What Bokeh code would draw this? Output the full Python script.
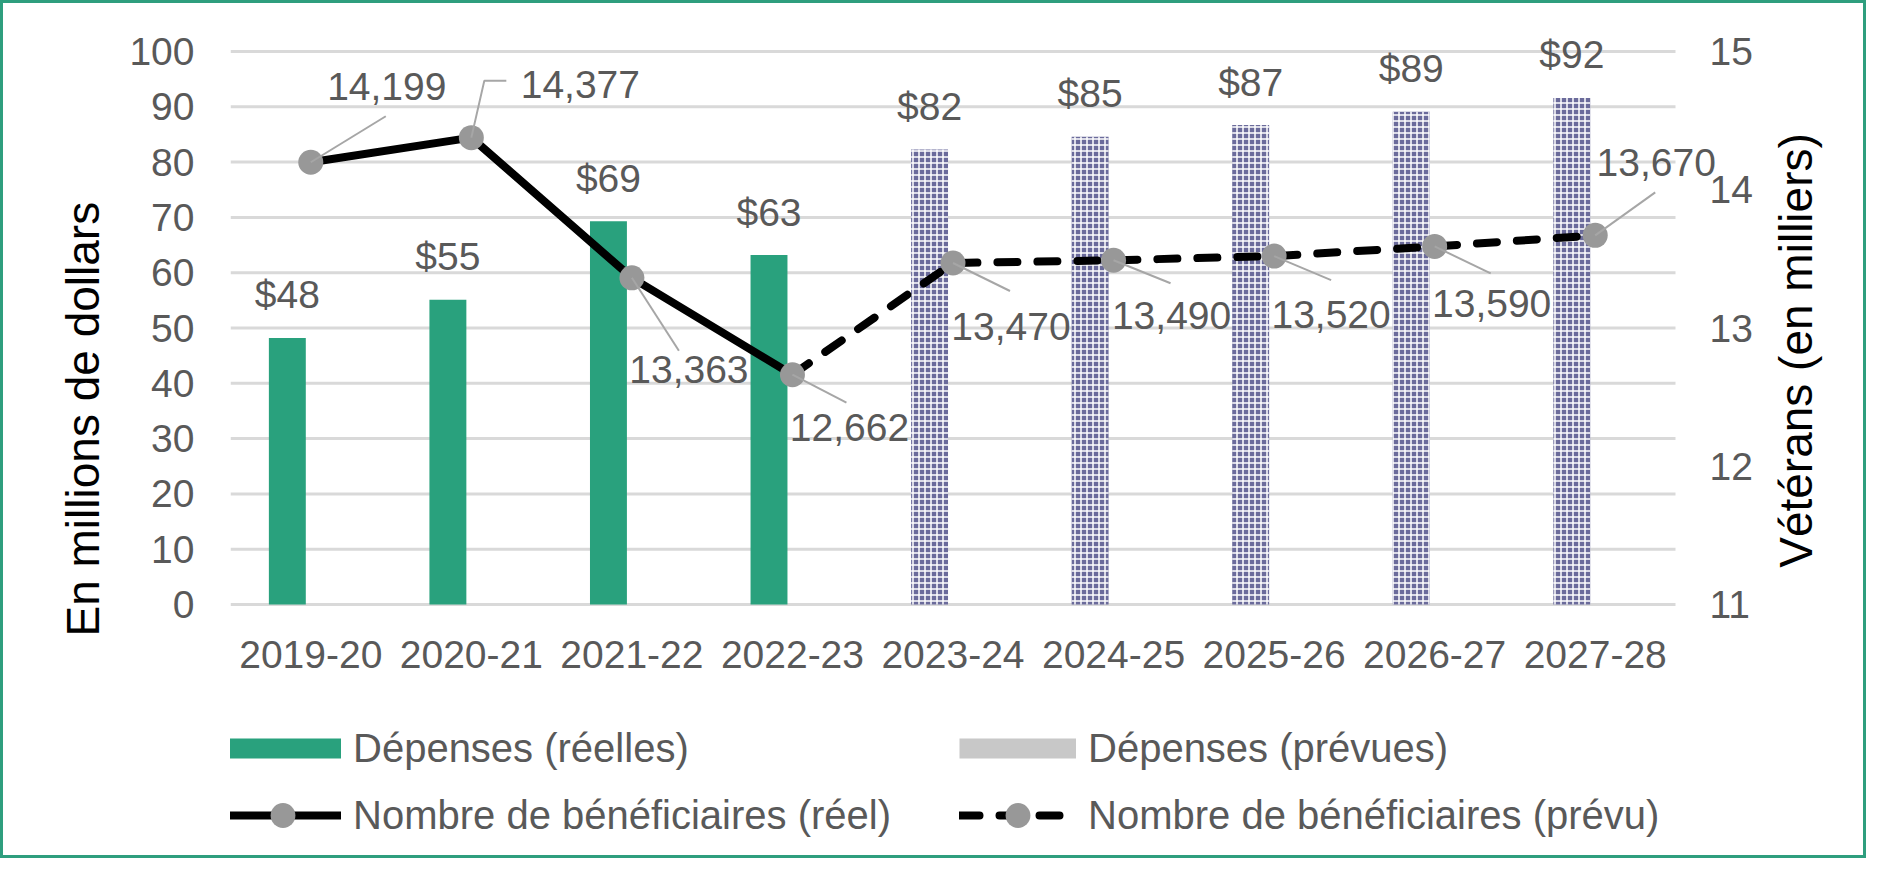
import math
from bokeh.plotting import figure
from bokeh.layouts import column
from bokeh.models import (Range1d, LinearAxis, FixedTicker, ColumnDataSource,
                          Legend, LegendItem, Title)
from bokeh.embed import file_html
from bokeh.resources import INLINE
from bokeh.core.properties import value

# ---------------- data ----------------
years = ["2019-20", "2020-21", "2021-22", "2022-23", "2023-24",
         "2024-25", "2025-26", "2026-27", "2027-28"]
spend_actual = [48.2, 55.1, 69.3, 63.2]            # millions $
spend_planned = [82.3, 84.6, 86.7, 89.1, 91.6]     # millions $
beneficiaries = [14199, 14377, 13363, 12662, 13470, 13490, 13520, 13590, 13670]
n_actual = 4
left_ticks = list(range(0, 101, 10))
right_ticks = [11, 12, 13, 14, 15]

# ---------------- layout / style ----------------
FONT = "Liberation Sans"
GREEN = "#29A17D"
PLAN = "#6B6B9B"
GRAY_TXT = "#595959"
GRID = "#D9D9D9"
MARK = "#989898"
LEADER = "#A6A6A6"

W = 1860
H1, H2 = 697, 155                 # chart part, legend part
DATA_H = 553                      # px between 0 and 100
PAD_BOT, PAD_TOP = 3, 31
ML = 227
FRAME_RIGHT = 1827                # frame extends past the last category (room for labels/title)
MR = W - FRAME_RIGHT
MT = 17
FRAME_BOTTOM = MT + DATA_H + PAD_BOT + PAD_TOP
MB = H1 - FRAME_BOTTOM
FW = W - ML - MR
CAT_PX = 1445 / 9
X0 = -0.5
X_PLOT_END = X0 + len(years)
X1 = X0 + FW / CAT_PX
px_l = DATA_H / 100
px_r = DATA_H / (right_ticks[-1] - right_ticks[0])
Y0 = -PAD_BOT / px_l

BAR_SHIFT = -0.146
BAR_W = 0.23
BAR_LAB_DY = -43

lab_dx = [76, 109, 57, 57, 58, 58, 57, 57, 61]
lab_dy = [-76, -53, 92, 53, 63, 55, 58, 57, -73]
lead_pts = [[(75, -46)], [(13, -57), (35, -57)], [(47, 73)], [(54, 28)], [(57, 28)],
            [(57, 23)], [(57, 24)], [(56, 27)], [(60, -43)]]

p = figure(width=W, height=H1, output_backend="svg", toolbar_location=None,
           x_range=Range1d(X0, X1),
           y_range=Range1d(Y0, 100 + PAD_TOP / px_l),
           min_border_left=ML, min_border_right=MR,
           min_border_top=MT, min_border_bottom=MB)
p.extra_y_ranges = {"vet": Range1d(right_ticks[0] - PAD_BOT / px_r,
                                   right_ticks[-1] + PAD_TOP / px_r)}
p.outline_line_color = None
p.background_fill_color = "white"
p.border_fill_color = "white"

# grid (across the category area only)
p.xgrid.visible = False
p.ygrid.visible = False
p.segment(x0=[X0] * len(left_ticks), x1=[X_PLOT_END] * len(left_ticks),
          y0=left_ticks, y1=left_ticks, line_color=GRID, line_width=3)

# axes
ra = LinearAxis(y_range_name="vet", ticker=FixedTicker(ticks=right_ticks))
p.add_layout(ra, "right")
p.yaxis[0].ticker = FixedTicker(ticks=left_ticks)
p.xaxis[0].ticker = FixedTicker(ticks=list(range(len(years))))
p.xaxis[0].major_label_overrides = {i: y for i, y in enumerate(years)}
for ax in [p.xaxis[0], p.yaxis[0], ra]:
    ax.axis_line_color = None
    ax.major_tick_line_color = None
    ax.minor_tick_line_color = None
    ax.major_tick_out = 0
    ax.major_tick_in = 0
    ax.major_label_text_font = FONT
    ax.major_label_text_font_size = "39px"
    ax.major_label_text_color = GRAY_TXT
p.yaxis[0].major_label_standoff = 36
ra.major_label_standoff = 1710 - 4 - FRAME_RIGHT
p.xaxis[0].major_label_standoff = 33

p.add_layout(Title(text="En millions de dollars", align="left", offset=-29,
                   text_font=FONT, text_font_size="46px", text_font_style="normal",
                   text_color="black", standoff=36), "left")

# right-hand axis title, drawn inside the widened frame (reads bottom to top)
RT_X, RT_Y = 1792, 347            # canvas px of the title's baseline centre
p.text(x=[X0 + (RT_X - ML) / CAT_PX], y=[Y0 + (FRAME_BOTTOM - RT_Y) / px_l],
       text=["Vétérans (en milliers)"], angle=math.pi / 2, text_align="center",
       text_baseline="alphabetic", text_font=value(FONT), text_font_size="46px",
       text_color="black")

# bars
xa = [i + BAR_SHIFT for i in range(n_actual)]
xp = [i + BAR_SHIFT for i in range(n_actual, len(years))]
src_a = ColumnDataSource(dict(x=xa, top=spend_actual,
                              lab=[f"${round(v)}" for v in spend_actual]))
src_p = ColumnDataSource(dict(x=xp, top=spend_planned,
                              lab=[f"${round(v)}" for v in spend_planned]))
p.vbar(x="x", top="top", bottom=0, width=BAR_W, source=src_a,
       fill_color=GREEN, line_color=None)
p.vbar(x="x", top="top", bottom=0, width=BAR_W, source=src_p,
       fill_color=PLAN, line_color=None, hatch_pattern="cross",
       hatch_color="white", hatch_scale=6, hatch_weight=1.5)
for s in (src_a, src_p):
    p.text(x="x", y="top", text="lab", source=s, text_align="center",
           text_baseline="alphabetic", y_offset=BAR_LAB_DY,
           text_font=value(FONT), text_font_size="39px", text_color=GRAY_TXT)

# lines
vals_k = [b / 1000 for b in beneficiaries]
xs = list(range(len(years)))
p.line(xs[:n_actual], vals_k[:n_actual], y_range_name="vet",
       line_color="black", line_width=8, line_cap="round", line_join="round")
p.line(xs[n_actual - 1:], vals_k[n_actual - 1:], y_range_name="vet",
       line_color="black", line_width=8, line_dash="20 20",
       line_cap="round", line_join="round")
p.scatter(xs, vals_k, y_range_name="vet", size=25, fill_color=MARK, line_color=None)

# leader lines
lx, ly = [], []
for i, pts in enumerate(lead_pts):
    lx.append([xs[i]] + [xs[i] + dx / CAT_PX for dx, dy in pts])
    ly.append([vals_k[i]] + [vals_k[i] - dy / px_r for dx, dy in pts])
p.multi_line(lx, ly, y_range_name="vet", line_color=LEADER, line_width=2)

# value labels
src_l = ColumnDataSource(dict(x=xs, y=vals_k, lab=[f"{b:,}" for b in beneficiaries],
                              dx=lab_dx, dy=lab_dy))
p.text(x="x", y="y", text="lab", source=src_l, y_range_name="vet",
       x_offset="dx", y_offset="dy", text_align="center", text_baseline="middle",
       text_font=value(FONT), text_font_size="39px", text_color=GRAY_TXT)

# ---------------- legend figure ----------------
lf = figure(width=W, height=H2, output_backend="svg", toolbar_location=None,
            x_range=Range1d(0, 1), y_range=Range1d(0, 1), min_border=0,
            x_axis_location=None, y_axis_location=None)
lf.outline_line_color = None
lf.xgrid.visible = False
lf.ygrid.visible = False
lf.background_fill_color = "white"
lf.border_fill_color = "white"

# legend proxies: kept outside the visible range so only their legend glyphs show
OFF_X, OFF_Y = [5, 6], [5, 5]
sw_a = lf.line(OFF_X, OFF_Y, line_color=GREEN, line_width=20, line_cap="butt")
sw_p = lf.line(OFF_X, OFF_Y, line_color="#C8C8C8", line_width=20, line_cap="butt")
ln_a = lf.line(OFF_X, OFF_Y, line_color="black", line_width=8, line_cap="round")
ln_f = lf.line(OFF_X, OFF_Y, line_color="black", line_width=8, line_dash="20 20",
               line_cap="round")
mk = lf.scatter(OFF_X, OFF_Y, size=25, fill_color=MARK, line_color=None)

lg = Legend(items=[LegendItem(label="Dépenses (réelles)", renderers=[sw_a]),
                   LegendItem(label="Dépenses (prévues)", renderers=[sw_p]),
                   LegendItem(label="Nombre de bénéficiaires (réel)", renderers=[ln_a, mk]),
                   LegendItem(label="Nombre de bénéficiaires (prévu)", renderers=[ln_f, mk])],
            location=(-6, 9), orientation="horizontal", ncols=2,
            glyph_width=117, glyph_height=62, spacing=5, padding=0, margin=0,
            label_standoff=12, label_width=601,
            label_text_font=FONT, label_text_font_size="40px",
            label_text_color=GRAY_TXT, background_fill_alpha=0,
            border_line_color=None)
lf.add_layout(lg, "center")

layout = column(p, lf, spacing=0,
                styles={"border": "3px solid #2E9E7E", "box-sizing": "content-box"})

open("out.html", "w").write(file_html(layout, INLINE))
